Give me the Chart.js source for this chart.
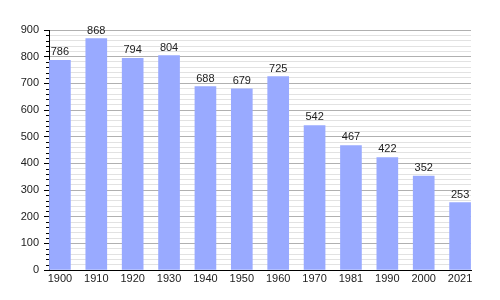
<!DOCTYPE html>
<html>
<head>
<meta charset="utf-8">
<script src="https://cdn.jsdelivr.net/npm/chart.js@4"></script>
<style>
  html, body { margin: 0; padding: 0; background: #fff; }
  #wrap { width: 500px; height: 300px; }
</style>
</head>
<body>
<div id="wrap"><canvas id="chart" width="500" height="300"></canvas></div>
<script>
// census years and population
const years = ['1900', '1910', '1920', '1930', '1940', '1950', '1960', '1970', '1981', '1990', '2000', '2021'];
const population = [786, 868, 794, 804, 688, 679, 725, 542, 467, 422, 352, 253];
const yMax = 900;
const yMajorStep = 100;
const yMinorStep = 20;

const FONT = 'Liberation Sans, Arial, sans-serif';
const isMajor = (v) => v % yMajorStep === 0;

// draw the value above each bar
const valueLabels = {
  id: 'valueLabels',
  afterDatasetsDraw(chart) {
    const ctx = chart.ctx;
    const meta = chart.getDatasetMeta(0);
    ctx.save();
    ctx.font = '11px ' + FONT;
    ctx.fillStyle = '#222';
    ctx.textAlign = 'center';
    ctx.textBaseline = 'alphabetic';
    meta.data.forEach((bar, i) => {
      ctx.fillText(String(population[i]), bar.x, bar.y - 5);
    });
    ctx.restore();
  }
};

// shorter tick marks for the minor steps on the y axis
const minorTicks = {
  id: 'minorTicks',
  afterDraw(chart) {
    const ctx = chart.ctx;
    const y = chart.scales.y;
    const x0 = chart.chartArea.left;
    ctx.save();
    ctx.strokeStyle = '#000';
    ctx.lineWidth = 1;
    ctx.beginPath();
    y.ticks.forEach((t) => {
      if (isMajor(t.value)) return;
      const py = Math.round(y.getPixelForValue(t.value)) + 0.5;
      ctx.moveTo(x0 - 3, py);
      ctx.lineTo(x0, py);
    });
    ctx.stroke();
    ctx.restore();
  }
};

new Chart(document.getElementById('chart'), {
  type: 'bar',
  data: {
    datasets: [
      {
        data: population.map((v, i) => ({ x: i, y: v })),
        backgroundColor: '#99aaff',
        borderWidth: 0,
        barThickness: 21,
      },
    ],
  },
  options: {
    responsive: false,
    animation: false,
    layout: { padding: { top: 30, right: 29, left: 0, bottom: 0 } },
    plugins: {
      legend: { display: false },
      tooltip: { enabled: false },
    },
    scales: {
      x: {
        type: 'linear',
        offset: false,
        min: -0.3,
        max: years.length - 1 + 0.3,
        afterBuildTicks: (scale) => {
          scale.ticks = years.map((_, i) => ({ value: i }));
        },
        afterFit: (scale) => { scale.height = 30; },
        ticks: {
          autoSkip: false,
          maxRotation: 0,
          padding: 2,
          color: '#222',
          font: { family: FONT, size: 11 },
          callback: (v) => years[v],
        },
        grid: { display: false, drawTicks: false },
        border: { color: '#000', width: 1 },
      },
      y: {
        min: 0,
        max: yMax,
        afterFit: (scale) => { scale.width = 49; },
        ticks: {
          autoSkip: false,
          stepSize: yMinorStep,
          padding: 5,
          color: '#222',
          font: { family: FONT, size: 11 },
          callback: (v) => (isMajor(v) ? v : ''),
        },
        grid: {
          color: (c) => (isMajor(c.tick.value) ? '#b0b0b0' : '#e2e2e2'),
          tickColor: (c) => (isMajor(c.tick.value) ? '#000' : 'rgba(0,0,0,0)'),
          tickLength: 5,
        },
        border: { color: '#000', width: 1 },
      },
    },
  },
  plugins: [valueLabels, minorTicks],
});
</script>
</body>
</html>
